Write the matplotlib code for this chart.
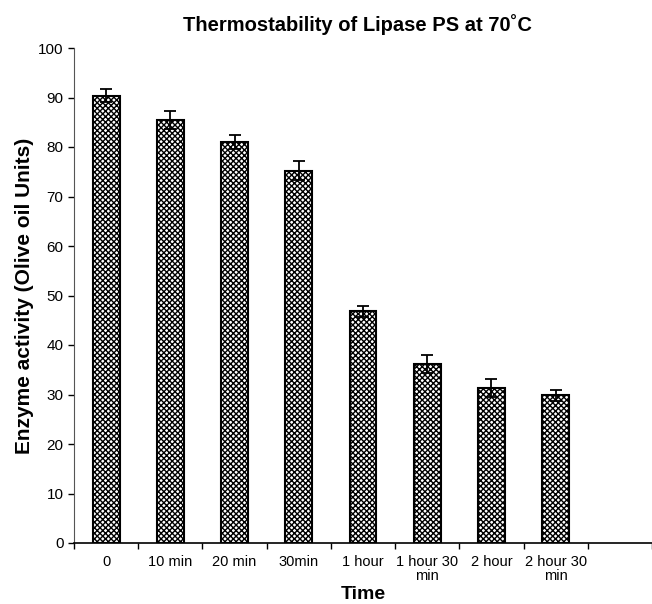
import matplotlib
matplotlib.use("Agg")
import matplotlib.pyplot as plt
import numpy as np

plt.rcParams['font.family'] = ['Liberation Sans', 'DejaVu Sans']
plt.rcParams['hatch.linewidth'] = 1.0

# data
tiempos = ["0", "10 min", "20 min", "30min", "1 hour", "1 hour 30\nmin",
           "2 hour", "2 hour 30\nmin"]
actividad = [90.4, 85.4, 81.0, 75.2, 46.8, 36.1, 31.3, 29.8]
error = [1.3, 1.8, 1.5, 1.9, 1.1, 1.8, 1.9, 1.1]

fig = plt.figure(figsize=(6.52, 6.04), dpi=100)
ax = fig.add_axes([74 / 652, 61 / 604, 1 - 74 / 652, 495 / 604])

x = np.arange(len(tiempos))
ax.bar(x, actividad, width=0.42, color='white', edgecolor='black',
       linewidth=1.5, hatch='xxxxxx', zorder=2)
ax.errorbar(x, actividad, yerr=error, fmt='none', ecolor='black',
            elinewidth=1.3, capsize=4.5, capthick=1.3, zorder=3)

ax.set_xlim(-0.5, 8.5)
ax.set_ylim(0, 100)
ax.set_yticks(np.arange(0, 101, 10))
ax.set_xticks(x)
ax.set_xticklabels(tiempos, fontsize=10.5, linespacing=1.0)
ax.set_xticks(np.arange(-0.5, 9.0, 1.0), minor=True)
ax.tick_params(axis='x', which='major', length=0, pad=9)
ax.tick_params(axis='x', which='minor', length=4, width=1, direction='out')
ax.tick_params(axis='y', labelsize=11, length=4, width=1, direction='out')

ax.spines['top'].set_visible(False)
ax.spines['right'].set_visible(False)
ax.spines['left'].set_color('#555555')
ax.spines['bottom'].set_linewidth(1.2)

ax.set_xlabel("Time", fontsize=14, fontweight='bold', labelpad=2)
ax.set_ylabel("Enzyme activity (Olive oil Units)", fontsize=15,
              fontweight='bold', labelpad=3)
fig.text(357 / 652, 1 - 25 / 604, "Thermostability of Lipase PS at 70˚C",
         ha='center', va='center', fontsize=14.5, fontweight='bold')

fig.savefig("out.png", dpi=100)
